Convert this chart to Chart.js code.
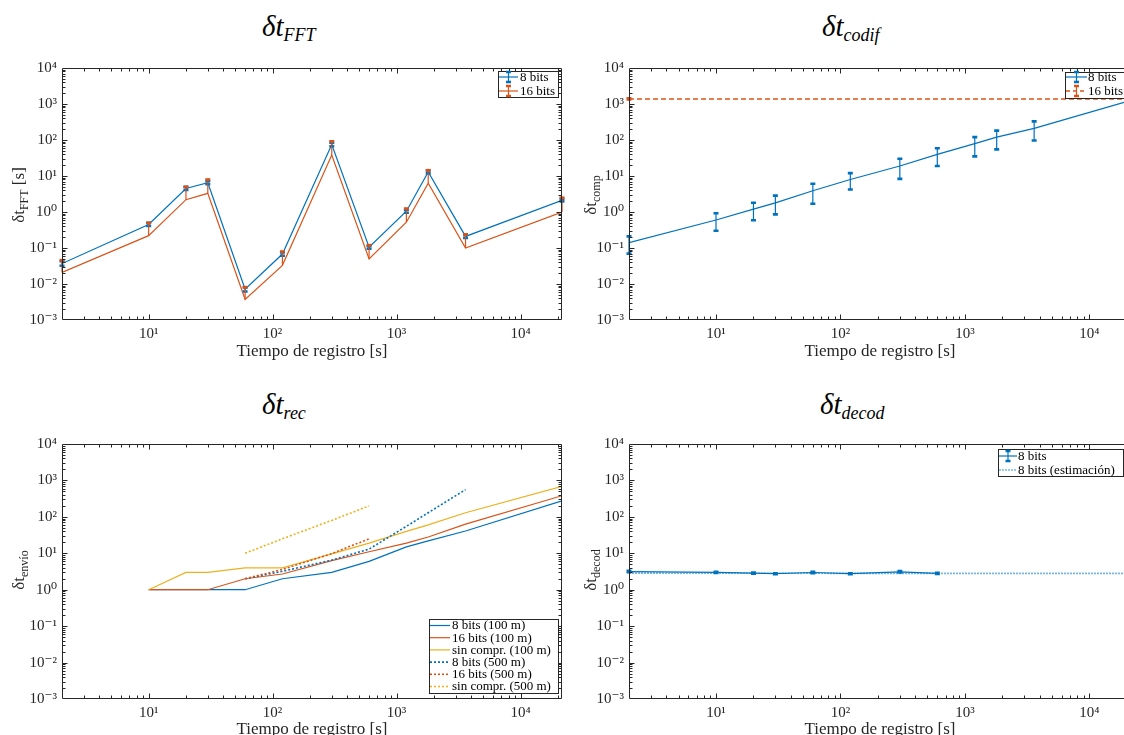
<!DOCTYPE html>
<html><head><meta charset="utf-8">
<script src="https://cdn.jsdelivr.net/npm/chart.js@4.4.1/dist/chart.umd.min.js"></script>
<style>
html,body{margin:0;padding:0;background:#fff;overflow:hidden;width:1124px;height:735px;position:relative;}
canvas{position:absolute;}
.t{position:absolute;font-family:"Liberation Serif","DejaVu Serif",serif;white-space:nowrap;line-height:1;}
.title{font-style:italic;font-size:29px;color:#000;}
.title sub{font-size:18px;vertical-align:-5px;}
.ylab{font-size:17px;color:#262626;transform:translate(-50%,-50%) rotate(-90deg);}
.ylab sub{font-size:12px;vertical-align:-4px;}
.xlab{font-size:17px;color:#262626;transform:translate(-50%,-50%);}
</style></head><body>
<canvas id="c1" width="590" height="320" style="left:0px;top:50px"></canvas>
<canvas id="c2" width="600" height="320" style="left:570px;top:50px"></canvas>
<canvas id="c3" width="590" height="320" style="left:0px;top:426px"></canvas>
<canvas id="c4" width="600" height="320" style="left:570px;top:426px"></canvas>

<div class="t title" style="left:262px;top:12px">δt<sub>FFT</sub></div>
<div class="t title" style="left:822px;top:12px">δt<sub>codif</sub></div>
<div class="t title" style="left:262px;top:390px">δt<sub>rec</sub></div>
<div class="t title" style="left:820px;top:390px">δt<sub>decod</sub></div>

<div class="t ylab" style="left:20px;top:195px">δt<sub>FFT</sub> [s]</div>
<div class="t ylab" style="left:592px;top:195px">δt<sub>comp</sub></div>
<div class="t ylab" style="left:20px;top:570px">δt<sub>envío</sub></div>
<div class="t ylab" style="left:592px;top:570px">δt<sub>decod</sub></div>

<div class="t xlab" style="left:312px;top:350px">Tiempo de registro [s]</div>
<div class="t xlab" style="left:880px;top:350px">Tiempo de registro [s]</div>
<div class="t xlab" style="left:312px;top:728px">Tiempo de registro [s]</div>
<div class="t xlab" style="left:880px;top:728px">Tiempo de registro [s]</div>

<script>
// ---------- data ----------
const xTicks = [10, 100, 1000, 10000];
const xTickLabels = ['10¹', '10²', '10³', '10⁴'];
const yTicks = [1e-3, 1e-2, 1e-1, 1, 10, 100, 1000, 10000];
const yTickLabels = ['10⁻³', '10⁻²', '10⁻¹', '10⁰', '10¹', '10²', '10³', '10⁴'];

// δt_FFT
const xFFT = [2, 10, 20, 30, 60, 120, 300, 600, 1200, 1800, 3600, 21600];
const fft8 = [0.037, 0.45, 4.5, 6.5, 0.0072, 0.068, 75, 0.105, 1.05, 13, 0.21, 2.1];
const fft8Low = [0.032, 0.41, 4.1, 5.9, 0.0062, 0.061, 67, 0.096, 0.95, 11.8, 0.19, 1.95];
const fft8High = [0.043, 0.50, 5.0, 7.2, 0.0080, 0.075, 84, 0.115, 1.16, 14.2, 0.23, 2.3];
const fft16 = [0.021, 0.22, 2.2, 3.3, 0.0037, 0.033, 38, 0.05, 0.52, 6.3, 0.10, 1.0];
const fft16High = [0.046, 0.50, 5.0, 8.0, 0.0082, 0.080, 92, 0.12, 1.25, 14.5, 0.24, 2.5];

// δt_comp
const xComp = [2, 10, 20, 30, 60, 120, 300, 600, 1200, 1800, 3600, 21600];
const comp8 = [0.14, 0.6, 1.2, 1.8, 3.9, 8, 19, 40, 79, 120, 210, 1260];
const comp8Low = [0.07, 0.3, 0.59, 0.86, 1.7, 4.2, 8.3, 19, 35, 55, 97, null];
const comp8High = [0.21, 0.92, 1.8, 2.85, 6.1, 12, 30, 59, 120, 182, 330, null];
const xComp16 = [2, 21600];
const comp16 = [1380, 1380];
const comp16Low = [1330, null];
const comp16High = [1430, null];

// δt_envío
const xEnv100 = [10, 20, 30, 60, 120, 300, 600, 1200, 1800, 3600, 21600];
const env8_100 = [1, 1, 1, 1, 2, 3, 6, 15, 22, 41, 275];
const env16_100 = [1, 1, 1, 2, 2.7, 6.3, 11, 19, 28, 63, 380];
const envSin_100 = [1, 3, 3, 4, 4, 9.6, 19, 40, 60, 130, 690];
const xEnv8_500 = [60, 120, 300, 600, 1200, 1800, 3600];
const env8_500 = [2, 3.2, 6.5, 13, 55, 130, 560];
const xEnv16_500 = [60, 120, 300, 600];
const env16_500 = [2, 3.6, 9.8, 25];
const xEnvSin_500 = [60, 120, 300, 600];
const envSin_500 = [10, 25, 80, 200];

// δt_decod
const xDec = [2, 10, 20, 30, 60, 120, 300, 600];
const dec8 = [3.15, 3.0, 2.85, 2.75, 2.97, 2.75, 3.1, 2.8];
const dec8Low = [3.02, 2.88, 2.74, 2.66, 2.85, 2.66, 2.97, 2.71];
const dec8High = [3.28, 3.12, 2.96, 2.84, 3.09, 2.84, 3.23, 2.89];
const xDecEst = [2, 600, 21600];
const decEst = [2.85, 2.8, 2.8];

// ---------- style ----------
const C_BLUE = '#0072BD', C_RED = '#D95319', C_YEL = '#EDB120', C_LBLUE = '#74B9E6';
const AX = '#262626';
const FONT = '"Liberation Serif","DejaVu Serif",serif';

function pts(xs, ys) { return xs.map((x, i) => ({x: x, y: ys[i]})); }
function ds(label, xs, ys, color, extra) {
  return Object.assign({label: label, data: pts(xs, ys), borderColor: color, backgroundColor: color,
    borderWidth: 1.2, pointRadius: 0, pointHoverRadius: 0, fill: false, tension: 0}, extra || {});
}

const errPlugin = {
  id: 'errbars',
  afterDatasetsDraw(chart) {
    const ctx = chart.ctx, xs = chart.scales.x, ys = chart.scales.y;
    chart.data.datasets.forEach(d => {
      if (!d.errHigh) return;
      ctx.save();
      ctx.strokeStyle = d.borderColor;
      d.data.forEach((p, i) => {
        const hi = d.errHigh[i];
        const lo = d.errLow ? d.errLow[i] : p.y;
        if (hi == null || lo == null) return;
        const px = xs.getPixelForValue(p.x);
        const y1 = ys.getPixelForValue(lo), y2 = ys.getPixelForValue(hi);
        ctx.lineWidth = 1.2;
        ctx.beginPath(); ctx.moveTo(px, y1); ctx.lineTo(px, y2); ctx.stroke();
        ctx.lineWidth = 2.6;
        ctx.beginPath();
        if (d.errLow) { ctx.moveTo(px - 2.5, y1); ctx.lineTo(px + 2.5, y1); }
        ctx.moveTo(px - 2.5, y2); ctx.lineTo(px + 2.5, y2);
        ctx.stroke();
      });
      ctx.restore();
    });
  }
};

const boxPlugin = {
  id: 'mbox',
  afterDraw(chart) {
    const ctx = chart.ctx, a = chart.chartArea, xs = chart.scales.x, ys = chart.scales.y;
    ctx.save();
    ctx.strokeStyle = AX; ctx.lineWidth = 1;
    const L = Math.round(a.left) + 0.5, R = Math.round(a.right) - 0.5, T = Math.round(a.top) + 0.5, B = Math.round(a.bottom) - 0.5;
    ctx.beginPath();
    ctx.rect(L, T, R - L, B - T);
    const xmin = xs.min, xmax = xs.max, ymin = ys.min, ymax = ys.max;
    for (let d = -4; d <= 5; d++) {
      for (let m = 1; m <= 9; m++) {
        const v = m * Math.pow(10, d);
        const len = m === 1 ? 5 : 3;
        if (v > xmin && v < xmax) {
          const px = Math.round(xs.getPixelForValue(v)) + 0.5;
          ctx.moveTo(px, B); ctx.lineTo(px, B - len);
          ctx.moveTo(px, T); ctx.lineTo(px, T + len);
        }
        if (v > ymin && v < ymax) {
          const py = Math.round(ys.getPixelForValue(v)) + 0.5;
          ctx.moveTo(L, py); ctx.lineTo(L + len, py);
          ctx.moveTo(R, py); ctx.lineTo(R - len, py);
        }
      }
    }
    ctx.stroke();
    ctx.restore();
  }
};

const legPlugin = {
  id: 'mleg',
  afterDraw(chart, args, o) {
    if (!o || !o.items) return;
    const ctx = chart.ctx;
    const b = o.box;
    ctx.save();
    ctx.fillStyle = '#fff';
    ctx.fillRect(b[0], b[1], b[2], b[3]);
    ctx.strokeStyle = AX; ctx.lineWidth = 1;
    ctx.strokeRect(b[0] + 0.5, b[1] + 0.5, b[2] - 1, b[3] - 1);
    ctx.font = o.fontSize + 'px ' + FONT;
    ctx.textBaseline = 'middle';
    o.items.forEach((it, k) => {
      const yy = o.y0 + k * o.dy;
      ctx.strokeStyle = it.color;
      ctx.lineWidth = it.width || 1.2;
      ctx.setLineDash(it.dash || []);
      ctx.beginPath(); ctx.moveTo(o.sx0, yy); ctx.lineTo(o.sx1, yy); ctx.stroke();
      ctx.setLineDash([]);
      if (it.err) {
        const cx = (o.sx0 + o.sx1) / 2;
        ctx.lineWidth = 1.2;
        ctx.beginPath(); ctx.moveTo(cx, yy - 5); ctx.lineTo(cx, yy + 5); ctx.stroke();
        ctx.lineWidth = 2.6;
        ctx.beginPath(); ctx.moveTo(cx - 2.5, yy - 5); ctx.lineTo(cx + 2.5, yy - 5);
        ctx.moveTo(cx - 2.5, yy + 5); ctx.lineTo(cx + 2.5, yy + 5); ctx.stroke();
      }
      ctx.fillStyle = '#000';
      ctx.fillText(it.label, o.tx, yy + 0.5);
    });
    ctx.restore();
  }
};

function makeChart(id, datasets, yWidth, xHeight, padding, legend) {
  datasets.forEach((d, i) => { d.order = -i; });
  return new Chart(document.getElementById(id), {
    type: 'line',
    data: {datasets: datasets},
    plugins: [errPlugin, boxPlugin, legPlugin],
    options: {
      responsive: false, animation: false, devicePixelRatio: 1,
      layout: {padding: padding},
      plugins: {legend: {display: false}, tooltip: {enabled: false}, mleg: legend},
      scales: {
        x: {
          type: 'logarithmic', min: 2, max: 21600,
          grid: {display: false, drawTicks: false}, border: {display: false},
          afterBuildTicks: s => { s.ticks = xTicks.map(v => ({value: v})); },
          afterFit: s => { s.height = xHeight; },
          ticks: {font: {family: FONT, size: 15}, color: AX, padding: 5, maxRotation: 0, autoSkip: false,
            callback: v => xTickLabels[xTicks.indexOf(v)]}
        },
        y: {
          type: 'logarithmic', min: 1e-3, max: 1e4,
          grid: {display: false, drawTicks: false}, border: {display: false},
          afterBuildTicks: s => { s.ticks = yTicks.map(v => ({value: v})); },
          afterFit: s => { s.width = yWidth; },
          ticks: {font: {family: FONT, size: 15}, color: AX, padding: 5, autoSkip: false,
            callback: v => yTickLabels[yTicks.indexOf(v)]}
        }
      }
    }
  });
}

// Panel 1: δt_FFT
makeChart('c1', [
  ds('8 bits', xFFT, fft8, C_BLUE, {errLow: fft8Low, errHigh: fft8High}),
  ds('16 bits', xFFT, fft16, C_RED, {errHigh: fft16High})
], 62, 50, {left: 0, top: 18, right: 28, bottom: 0}, {
  box: [498, 21, 61, 27], y0: 27, dy: 14, sx0: 499, sx1: 518, tx: 520, fontSize: 13,
  items: [{label: '8 bits', color: C_BLUE, err: true}, {label: '16 bits', color: C_RED, err: true}]
});

// Panel 2: δt_comp
makeChart('c2', [
  ds('8 bits', xComp, comp8, C_BLUE, {errLow: comp8Low, errHigh: comp8High}),
  ds('16 bits', xComp16, comp16, C_RED, {errLow: comp16Low, errHigh: comp16High, borderDash: [5, 3], borderWidth: 1.5})
], 59, 50, {left: 0, top: 18, right: 39, bottom: 0}, {
  box: [495, 22, 62, 27], y0: 27, dy: 14, sx0: 496, sx1: 517, tx: 518, fontSize: 13,
  items: [{label: '8 bits', color: C_BLUE, err: true}, {label: '16 bits', color: C_RED, err: true, dash: [4, 3], width: 1.5}]
});

// Panel 3: δt_envío
makeChart('c3', [
  ds('8 bits (100 m)', xEnv100, env8_100, C_BLUE),
  ds('16 bits (100 m)', xEnv100, env16_100, C_RED),
  ds('sin compr. (100 m)', xEnv100, envSin_100, C_YEL),
  ds('8 bits (500 m)', xEnv8_500, env8_500, C_BLUE, {borderDash: [2, 2], borderWidth: 1.6}),
  ds('16 bits (500 m)', xEnv16_500, env16_500, C_RED, {borderDash: [2, 2], borderWidth: 1.6}),
  ds('sin compr. (500 m)', xEnvSin_500, envSin_500, C_YEL, {borderDash: [2, 2], borderWidth: 1.6})
], 62, 47, {left: 0, top: 18, right: 28, bottom: 0}, {
  box: [429, 193, 130, 75], y0: 199.5, dy: 12.2, sx0: 430, sx1: 450, tx: 452, fontSize: 13,
  items: [
    {label: '8 bits (100 m)', color: C_BLUE},
    {label: '16 bits (100 m)', color: C_RED},
    {label: 'sin compr. (100 m)', color: C_YEL},
    {label: '8 bits (500 m)', color: C_BLUE, dash: [2, 2], width: 1.6},
    {label: '16 bits (500 m)', color: C_RED, dash: [2, 2], width: 1.6},
    {label: 'sin compr. (500 m)', color: C_YEL, dash: [2, 2], width: 1.6}
  ]
});

// Panel 4: δt_decod
makeChart('c4', [
  ds('8 bits (estimación)', xDecEst, decEst, C_LBLUE, {borderDash: [2, 1], borderWidth: 1.6}),
  ds('8 bits', xDec, dec8, C_BLUE, {errLow: dec8Low, errHigh: dec8High})
], 59, 47, {left: 0, top: 18, right: 39, bottom: 0}, {
  box: [428, 23, 126, 28], y0: 30, dy: 14, sx0: 429, sx1: 447, tx: 448, fontSize: 13,
  items: [{label: '8 bits', color: C_BLUE, err: true}, {label: '8 bits (estimación)', color: C_LBLUE, dash: [2, 1], width: 1.6}]
});
</script>
</body></html>
